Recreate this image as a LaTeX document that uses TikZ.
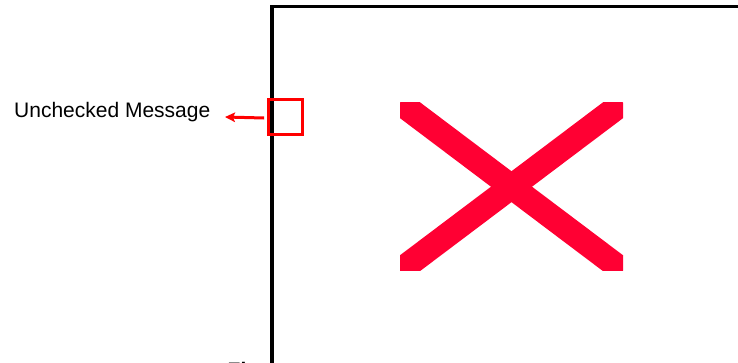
\documentclass[tikz,border=0pt]{standalone}
\usepackage{fontspec}
\setmainfont{Liberation Sans}
\usepackage{xcolor}
\definecolor{AlertRed}{HTML}{FF0000}
\definecolor{CrossRed}{HTML}{FF0033}
\usetikzlibrary{arrows.meta,positioning,calc}

\begin{document}
\begin{tikzpicture}[x=1pt,y=-1pt]
\tikzset{
  frameline/.style={draw=black,line width=3.4pt},
  markbox/.style={draw=AlertRed,line width=2.7pt,fill=none,minimum width=34pt,minimum height=35pt,inner sep=0pt},
  msgarrow/.style={draw=AlertRed,line width=3pt,-{Stealth[length=10pt,width=9.5pt,inset=2pt]}},
  label/.style={inner sep=0pt,font=\fontsize{21}{25}\selectfont}
}
\useasboundingbox (0,0) rectangle (738,362);
\clip (0,0) rectangle (738,362);
\fill[white] (0,0) rectangle (738,362);

% screen frame, cut off on the right and at the bottom
\draw[frameline] (272,400) -- (272,6.5) -- (780,6.5);

% marked message and its label
\node[markbox] (box) at (285.5,117) {};
\node[label,anchor=base east] (msg) at (210.5,117) {Unchecked Message};
\draw[msgarrow] ([xshift=-3pt,yshift=-1pt]box.west) -- ([xshift=14.5pt]box.west -| msg.east);

% big cross
\begin{scope}
  \clip (400,102.7) rectangle (623,270.7);
  \draw[CrossRed,line width=24.7pt] (400,102.7) -- (623,270.7);
  \draw[CrossRed,line width=24.7pt] (623,102.7) -- (400,270.7);
\end{scope}

% caption, mostly outside the page
\node[label,font=\fontsize{21}{25}\selectfont\bfseries,anchor=base west] (cap) at (227.5,377.5) {Fi};
\end{tikzpicture}
\end{document}
